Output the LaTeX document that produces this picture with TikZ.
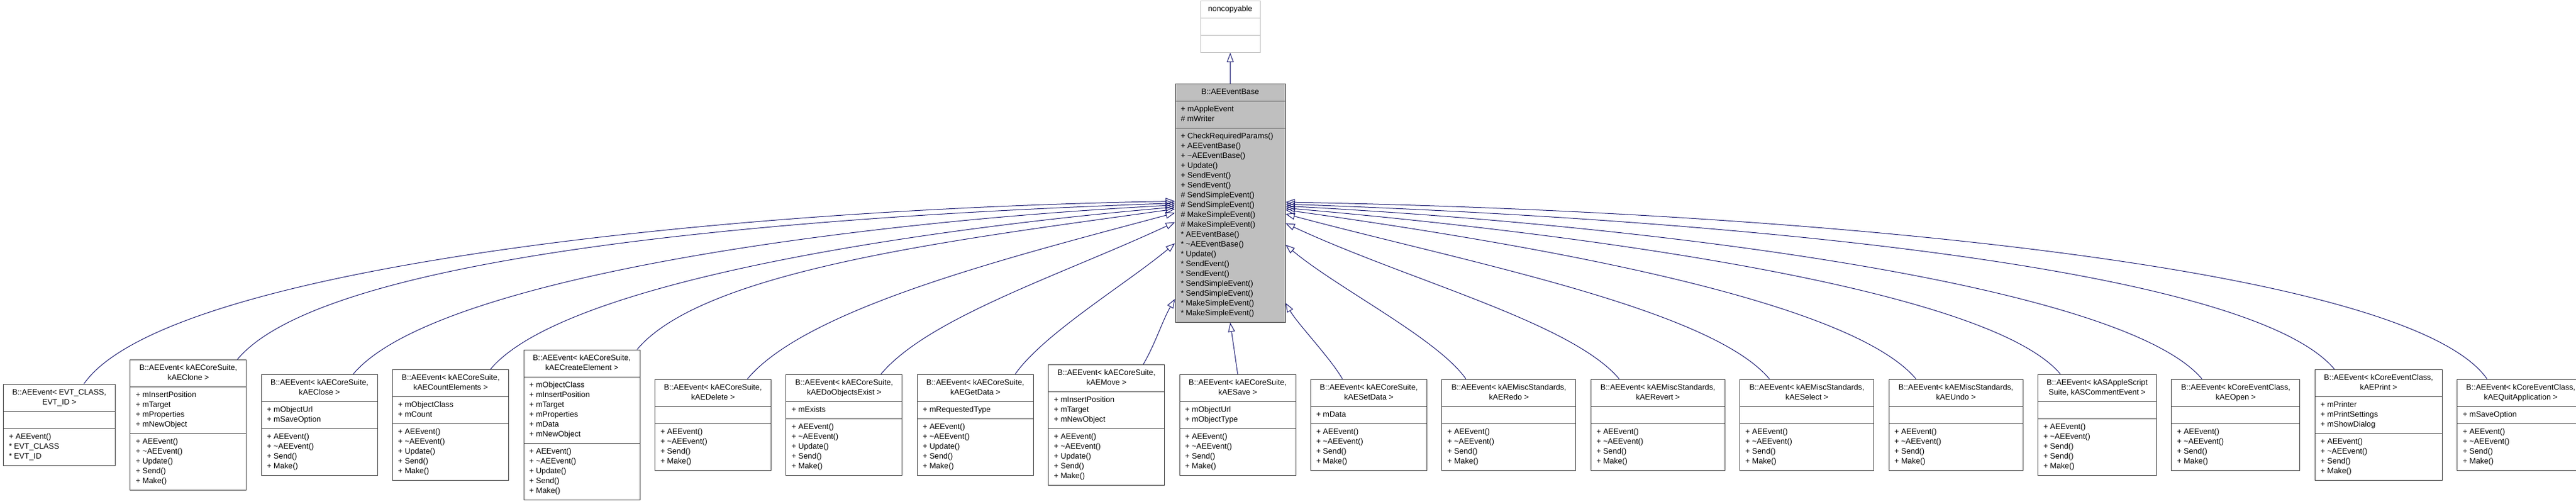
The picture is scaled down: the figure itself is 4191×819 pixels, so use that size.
\documentclass[tikz,border=0pt]{standalone}
\usepackage{fontspec}
\setmainfont{Liberation Sans}
\usetikzlibrary{positioning,shapes.multipart,arrows.meta}

\definecolor{edgeblue}{HTML}{191970}
\definecolor{boxline}{HTML}{404040}
\definecolor{basegray}{HTML}{BFBFBF}

\newcommand{\hdr}[1]{\begin{tabular}{@{}c@{}}#1\end{tabular}}
\newcommand{\mbr}[1]{\begin{tabular}{@{}l@{}}#1\end{tabular}}

\tikzset{
    cls/.style={rectangle split, rectangle split parts=3,
        rectangle split part align={center,left,left},
        draw=boxline, fill=white, line width=1pt, inner xsep=9pt, inner ysep=5.5pt,
        minimum width=#1, font=\fontsize{12.7}{16}\selectfont},
    inh/.style={{Triangle[open,length=15pt,width=11pt]}-, edgeblue, line width=1pt},
}

\begin{document}
\begin{tikzpicture}[x=1pt, y=1pt, node distance=23.4pt]
        \useasboundingbox (0,0) rectangle (4191,-819);
        % base class and its parent
        \node[cls=179pt, fill=basegray, anchor=north] (base) at (2001.5,-136) {\hdr{B::AEEventBase}
            \nodepart{two}\mbr{+ mAppleEvent\\ \# mWriter}
            \nodepart{three}\mbr{+ CheckRequiredParams()\\ + AEEventBase()\\ + \textasciitilde AEEventBase()\\ + Update()\\ + SendEvent()\\ + SendEvent()\\
                \# SendSimpleEvent()\\ \# SendSimpleEvent()\\ \# MakeSimpleEvent()\\ \# MakeSimpleEvent()\\
                {*} AEEventBase()\\ {*} \textasciitilde AEEventBase()\\ {*} Update()\\ {*} SendEvent()\\ {*} SendEvent()\\
                {*} SendSimpleEvent()\\ {*} SendSimpleEvent()\\ {*} MakeSimpleEvent()\\ {*} MakeSimpleEvent()}};
        \node[cls=97pt, draw=basegray, above=50pt of base] (nc) {\hdr{noncopyable}\nodepart{two}\strut\nodepart{three}\strut};

        % derived events
        \node[cls=182pt, anchor=west] (evt) at (5,-691) {\hdr{B::AEEvent< EVT\_CLASS,\\ EVT\_ID >}
            \nodepart{two}\strut
            \nodepart{three}\mbr{+ AEEvent()\\ {*} EVT\_CLASS\\ {*} EVT\_ID}};
        \node[cls=189pt, right=of evt] (clone) {\hdr{B::AEEvent< kAECoreSuite,\\ kAEClone >}
            \nodepart{two}\mbr{+ mInsertPosition\\ + mTarget\\ + mProperties\\ + mNewObject}
            \nodepart{three}\mbr{+ AEEvent()\\ + \textasciitilde AEEvent()\\ + Update()\\ + Send()\\ + Make()}};
        \node[cls=189pt, right=of clone] (close) {\hdr{B::AEEvent< kAECoreSuite,\\ kAEClose >}
            \nodepart{two}\mbr{+ mObjectUrl\\ + mSaveOption}
            \nodepart{three}\mbr{+ AEEvent()\\ + \textasciitilde AEEvent()\\ + Send()\\ + Make()}};
        \node[cls=189pt, right=of close] (count) {\hdr{B::AEEvent< kAECoreSuite,\\ kAECountElements >}
            \nodepart{two}\mbr{+ mObjectClass\\ + mCount}
            \nodepart{three}\mbr{+ AEEvent()\\ + \textasciitilde AEEvent()\\ + Update()\\ + Send()\\ + Make()}};
        \node[cls=189pt, right=of count] (create) {\hdr{B::AEEvent< kAECoreSuite,\\ kAECreateElement >}
            \nodepart{two}\mbr{+ mObjectClass\\ + mInsertPosition\\ + mTarget\\ + mProperties\\ + mData\\ + mNewObject}
            \nodepart{three}\mbr{+ AEEvent()\\ + \textasciitilde AEEvent()\\ + Update()\\ + Send()\\ + Make()}};
        \node[cls=189pt, right=of create] (delete) {\hdr{B::AEEvent< kAECoreSuite,\\ kAEDelete >}
            \nodepart{two}\strut
            \nodepart{three}\mbr{+ AEEvent()\\ + \textasciitilde AEEvent()\\ + Send()\\ + Make()}};
        \node[cls=189pt, right=of delete] (exist) {\hdr{B::AEEvent< kAECoreSuite,\\ kAEDoObjectsExist >}
            \nodepart{two}\mbr{+ mExists}
            \nodepart{three}\mbr{+ AEEvent()\\ + \textasciitilde AEEvent()\\ + Update()\\ + Send()\\ + Make()}};
        \node[cls=189pt, right=of exist] (getdata) {\hdr{B::AEEvent< kAECoreSuite,\\ kAEGetData >}
            \nodepart{two}\mbr{+ mRequestedType}
            \nodepart{three}\mbr{+ AEEvent()\\ + \textasciitilde AEEvent()\\ + Update()\\ + Send()\\ + Make()}};
        \node[cls=189pt, right=of getdata] (move) {\hdr{B::AEEvent< kAECoreSuite,\\ kAEMove >}
            \nodepart{two}\mbr{+ mInsertPosition\\ + mTarget\\ + mNewObject}
            \nodepart{three}\mbr{+ AEEvent()\\ + \textasciitilde AEEvent()\\ + Update()\\ + Send()\\ + Make()}};
        \node[cls=189pt, right=of move] (save) {\hdr{B::AEEvent< kAECoreSuite,\\ kAESave >}
            \nodepart{two}\mbr{+ mObjectUrl\\ + mObjectType}
            \nodepart{three}\mbr{+ AEEvent()\\ + \textasciitilde AEEvent()\\ + Send()\\ + Make()}};
        \node[cls=189pt, right=of save] (setdata) {\hdr{B::AEEvent< kAECoreSuite,\\ kAESetData >}
            \nodepart{two}\mbr{+ mData}
            \nodepart{three}\mbr{+ AEEvent()\\ + \textasciitilde AEEvent()\\ + Send()\\ + Make()}};
        \node[cls=218pt, right=of setdata] (redo) {\hdr{B::AEEvent< kAEMiscStandards,\\ kAERedo >}
            \nodepart{two}\strut
            \nodepart{three}\mbr{+ AEEvent()\\ + \textasciitilde AEEvent()\\ + Send()\\ + Make()}};
        \node[cls=218pt, right=of redo] (revert) {\hdr{B::AEEvent< kAEMiscStandards,\\ kAERevert >}
            \nodepart{two}\strut
            \nodepart{three}\mbr{+ AEEvent()\\ + \textasciitilde AEEvent()\\ + Send()\\ + Make()}};
        \node[cls=218pt, right=of revert] (select) {\hdr{B::AEEvent< kAEMiscStandards,\\ kAESelect >}
            \nodepart{two}\strut
            \nodepart{three}\mbr{+ AEEvent()\\ + \textasciitilde AEEvent()\\ + Send()\\ + Make()}};
        \node[cls=218pt, right=of select] (undo) {\hdr{B::AEEvent< kAEMiscStandards,\\ kAEUndo >}
            \nodepart{two}\strut
            \nodepart{three}\mbr{+ AEEvent()\\ + \textasciitilde AEEvent()\\ + Send()\\ + Make()}};
        \node[cls=193pt, right=of undo] (comment) {\hdr{B::AEEvent< kASAppleScript\\ Suite, kASCommentEvent >}
            \nodepart{two}\strut
            \nodepart{three}\mbr{+ AEEvent()\\ + \textasciitilde AEEvent()\\ + Send()\\ + Send()\\ + Make()}};
        \node[cls=209pt, right=of comment] (open) {\hdr{B::AEEvent< kCoreEventClass,\\ kAEOpen >}
            \nodepart{two}\strut
            \nodepart{three}\mbr{+ AEEvent()\\ + \textasciitilde AEEvent()\\ + Send()\\ + Make()}};
        \node[cls=207pt, right=of open] (print) {\hdr{B::AEEvent< kCoreEventClass,\\ kAEPrint >}
            \nodepart{two}\mbr{+ mPrinter\\ + mPrintSettings\\ + mShowDialog}
            \nodepart{three}\mbr{+ AEEvent()\\ + \textasciitilde AEEvent()\\ + Send()\\ + Make()}};
        \node[cls=207pt, right=of print] (quit) {\hdr{B::AEEvent< kCoreEventClass,\\ kAEQuitApplication >}
            \nodepart{two}\mbr{+ mSaveOption}
            \nodepart{three}\mbr{+ AEEvent()\\ + \textasciitilde AEEvent()\\ + Send()\\ + Make()}};

        % inheritance
        \draw[inh] (nc.south) -- (base.north);
        \draw[inh] (base.south) -- (save.north);
        \foreach \child/\sh/\oa/\ol/\ba/\ia/\il in {evt/40/55/230/178.7/181/750, clone/80/50/220/180.6/182/650,
            close/55/50/200/182.6/183/550, count/65/50/180/184.5/185/450, create/90/50/170/186.4/188/350,
            delete/56/50/150/190.8/195/280, exist/60/50/120/199.7/205/200, getdata/65/55/80/216.8/220/100,
            move/60/60/40/240.8/240/40, setdata/-43/120/40/299.2/300/40, redo/-70/125/80/323.2/320/110,
            revert/-63/130/120/340.3/335/220, select/-61/130/150/349.2/345/300, undo/-65/130/170/353.6/352/400,
            comment/-60/130/180/355.5/355/500, open/-55/130/200/357.4/357/600, print/-72/130/220/359.4/358/700,
            quit/-55/125/230/1.3/359/800}
            \draw[inh] (base.\ba) .. controls +(\ia:\il pt) and +(\oa:\ol pt) .. ([xshift=\sh pt]\child.north);
\end{tikzpicture}
\end{document}
